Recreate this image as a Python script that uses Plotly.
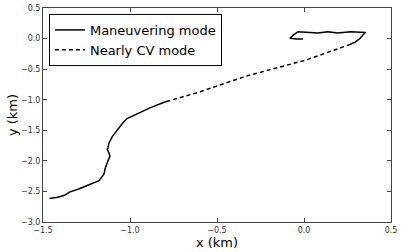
import plotly.graph_objects as go

# Maneuvering mode, lower segment (km)
man1_x = [-1.462, -1.415, -1.377, -1.348, -1.291, -1.216, -1.178, -1.149, -1.144, -1.134,
          -1.125, -1.115, -1.121, -1.131, -1.127, -1.121, -1.102, -1.074, -1.045, -1.017,
          -0.979, -0.941, -0.882, -0.818, -0.791]
man1_y = [-2.617, -2.596, -2.564, -2.511, -2.457, -2.377, -2.324, -2.216, -2.136, -2.056,
          -2.003, -1.923, -1.870, -1.816, -1.790, -1.710, -1.603, -1.495, -1.394, -1.309,
          -1.255, -1.202, -1.130, -1.058, -1.030]

# Nearly CV mode (km)
cv_x = [-0.791, -0.610, -0.326, 0.015, 0.260]
cv_y = [-1.030, -0.881, -0.609, -0.348, -0.101]

# Maneuvering mode, upper loop (km)
man2_x = [0.260, 0.294, 0.322, 0.339, 0.349, 0.356, 0.269, 0.193, 0.136, 0.080,
          0.015, -0.034, -0.059, -0.081, -0.042, -0.006]
man2_y = [-0.101, -0.059, 0.000, 0.064, 0.096, 0.101, 0.112, 0.091, 0.112, 0.091,
          0.107, 0.112, 0.064, 0.005, -0.005, -0.005]

x_ticks = [-1.5, -1.0, -0.5, 0.0, 0.5]
y_ticks = [-3.0, -2.5, -2.0, -1.5, -1.0, -0.5, 0.0, 0.5]

fig = go.Figure()
fig.add_trace(go.Scatter(x=man1_x, y=man1_y, mode="lines", name="Maneuvering mode",
                         line=dict(color="black", width=1.5), legendgroup="m"))
fig.add_trace(go.Scatter(x=cv_x, y=cv_y, mode="lines", name="Nearly CV mode",
                         line=dict(color="black", width=1.5, dash="4px,3px")))
fig.add_trace(go.Scatter(x=man2_x, y=man2_y, mode="lines", name="Maneuvering mode",
                         line=dict(color="black", width=1.5), showlegend=False, legendgroup="m"))

axis_common = dict(showgrid=False, zeroline=False, showline=True, linecolor="#444",
                   linewidth=1, mirror="ticks", ticks="inside", ticklen=4, tickcolor="#444",
                   tickformat=".1f", ticklabeloverflow="allow",
                   tickfont=dict(family="DejaVu Sans", size=8, color="#333"))

fig.update_layout(
    width=401, height=252,
    margin=dict(l=43, r=6, t=4, b=30),
    paper_bgcolor="white", plot_bgcolor="white",
    font=dict(family="DejaVu Sans", color="black"),
    xaxis=dict(range=[-1.5, 0.5], tickvals=x_ticks,
               title=dict(text="x (km)", font=dict(size=13), standoff=2), **axis_common),
    yaxis=dict(range=[-3.0, 0.5], tickvals=y_ticks,
               title=dict(text="y (km)", font=dict(size=13), standoff=0), **axis_common),
    legend=dict(x=0.017, y=0.972, xanchor="left", yanchor="top",
                bordercolor="black", borderwidth=1, bgcolor="white",
                font=dict(size=13, family="DejaVu Sans"), tracegroupgap=0),
    showlegend=True,
)

fig.write_html("out.html", config={"displayModeBar": False},
               post_script="document.body.style.margin='0';document.body.style.padding='0';")
